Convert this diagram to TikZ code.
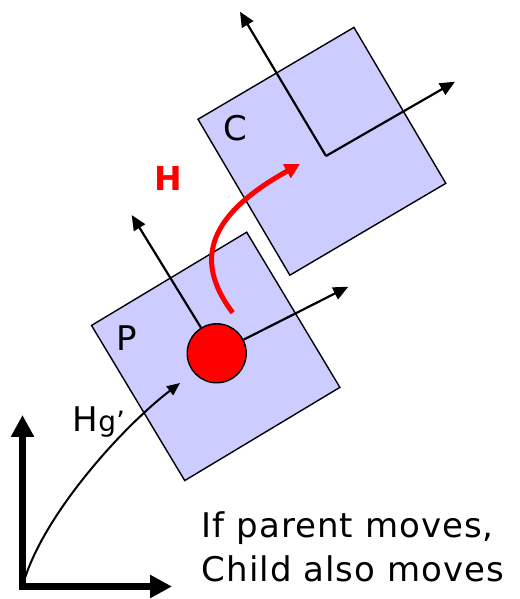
\documentclass[tikz,border=0pt]{standalone}
\usepackage{fontspec}
\setmainfont{DejaVu Sans}
\usetikzlibrary{arrows.meta}
\definecolor{partblue}{RGB}{204,204,255}

\begin{document}
\begin{tikzpicture}[x=1pt, y=1pt,
    every node/.style={font=\fontsize{34}{34}\selectfont, inner sep=0pt},
    part/.style={rectangle, draw, line width=1.4pt, fill=partblue, minimum size=181pt},
    joint/.style={circle, draw, line width=1.4pt, fill=red, minimum size=59pt},
    localaxis/.style={-{Triangle[length=15pt, width=13pt]}, line width=2.2pt},
    world/.style={{Triangle[length=22pt, width=22pt]}-{Triangle[length=22pt, width=22pt]}, line width=6.5pt},
    hgarrow/.style={-{Triangle[length=13pt, width=11pt]}, line width=2pt},
    harrow/.style={-{Triangle[length=15pt, width=15pt]}, line width=5pt, red},
    note/.style={anchor=base west, font=\fontsize{34}{34}\selectfont\addfontfeature{LetterSpace=3}}]

  \useasboundingbox (0,0) rectangle (519,599);

  \node[part, rotate=30.5] (child) at (321.9,447.7) {};
  \node[part, rotate=31] (parent) at (215.7,242.6) {};
  \node at (235,471) (clabel) {C};
  \node at (126.7,261) (plabel) {P};

  \coordinate (corig) at (326,443);
  \coordinate (cup) at (240,587.3);
  \coordinate (cright) at (455,517.3);
  \draw[localaxis] (corig) -- (cup);
  \draw[localaxis] (corig) -- (cright);

  \node[joint] (joint) at (216.7,245.7) {};
  \coordinate (pup) at (131.7,384);
  \coordinate (pright) at (348.3,312.3);
  \draw[localaxis] (joint) -- (pup);
  \draw[localaxis] (joint) -- (pright);

  \coordinate (origin) at (22.5,12.5);
  \coordinate (wup) at (22.5,184);
  \coordinate (wright) at (172,12.5);
  \draw[world] (wup) -- (origin) -- (wright);

  \coordinate (hgend) at (180,216);
  \draw[hgarrow] (origin) .. controls (40,80) and (120,170) .. (hgend);
  \node[anchor=base west] (hglabel) at (72.7,167.3) {H{\fontsize{28}{28}\selectfont g’}};

  \coordinate (hstart) at (232.7,286.3);
  \coordinate (hend) at (300,435);
  \draw[harrow] (hstart) .. controls (192,340) and (210,385) .. (hend);
  \node[red, font=\fontsize{33}{33}\selectfont\bfseries] (hlabel) at (168,421) {H};

  \node[note] (note1) at (201.7,61) {If parent moves,};
  \node[note] (note2) at (201.7,17) {Child also moves};
\end{tikzpicture}
\end{document}
